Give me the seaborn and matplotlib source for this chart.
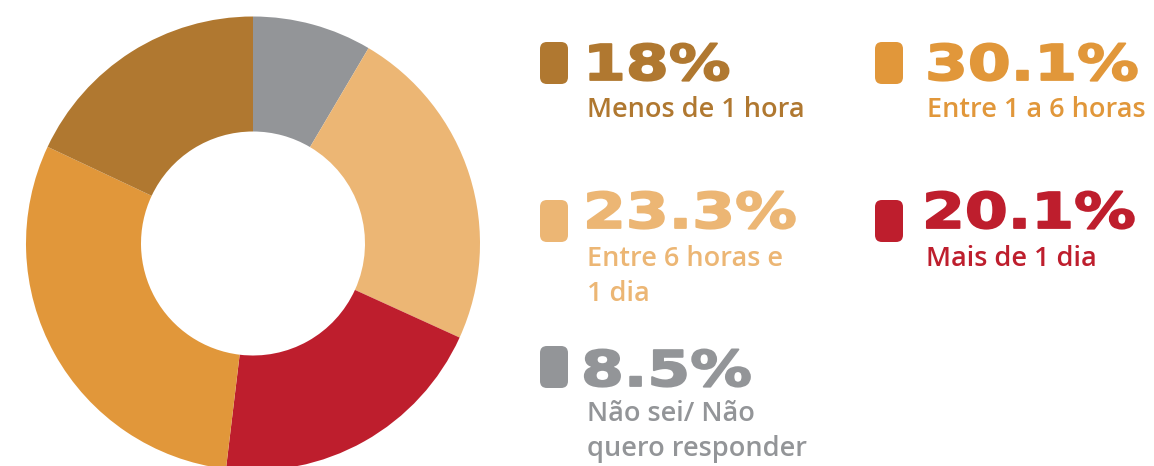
import matplotlib
matplotlib.use("Agg")
import matplotlib.pyplot as plt
import seaborn as sns
from matplotlib.patches import FancyBboxPatch
from matplotlib.patheffects import AbstractPathEffect
from matplotlib.transforms import Affine2D

# Time taken, share of respondents (%)
categories = ["Menos de 1 hora", "Entre 1 a 6 horas", "Entre 6 horas e\n1 dia",
              "Mais de 1 dia", "Não sei/ Não\nquero responder"]
values = [18.0, 30.1, 23.3, 20.1, 8.5]
value_labels = ["18%", "30.1%", "23.3%", "20.1%", "8.5%"]
colors = ["#B07830", "#E1973A", "#ECB674", "#BE1E2D", "#939598"]
# order of the slices going clockwise from 12 o'clock
ring_order = [4, 2, 3, 1, 0]

sns.set_theme(style="white")
plt.rcParams["font.family"] = ["DejaVu Sans"]

W, H = 1154, 466
fig = plt.figure(figsize=(W / 100, H / 100), dpi=100)
fig.patch.set_facecolor("white")


def fx(px):
    return px / W


def fy(py):
    return 1 - py / H


class WideHeavy(AbstractPathEffect):
    """Widen glyphs horizontally about a fixed display x and thicken strokes."""

    def __init__(self, sx, x0, lw):
        super().__init__()
        self.sx = sx
        self.x0 = x0
        self.lw = lw

    def draw_path(self, renderer, gc, tpath, affine, rgbFace=None):
        t = affine + Affine2D().translate(-self.x0, 0).scale(self.sx, 1).translate(self.x0, 0)
        gc0 = renderer.new_gc()
        gc0.copy_properties(gc)
        gc0.set_linewidth(self.lw)
        gc0.set_foreground(rgbFace)
        gc0.set_joinstyle("round")
        renderer.draw_path(gc0, tpath, t, rgbFace)
        gc0.restore()


# Donut
cx, cy, R = 253, 243.5, 227
ax = fig.add_axes([fx(cx - R), fy(cy + R), 2 * R / W, 2 * R / H])
ax.pie([values[i] for i in ring_order],
       colors=[colors[i] for i in ring_order],
       startangle=90, counterclock=False, radius=1,
       wedgeprops=dict(width=1 - 112 / 227, linewidth=0))
ax.set_xlim(-1, 1)
ax.set_ylim(-1, 1)
ax.set_aspect("equal")
ax.axis("off")

# Legend blocks: (marker left, marker top, value x, value baseline, label x, first-line top)
blocks = [
    (540, 42, 583, 80, 587, 96),
    (875, 42, 925, 80, 927, 96),
    (540, 200, 583, 228, 587, 245),
    (875, 200, 922, 228, 926, 245),
    (540, 346, 581, 386, 587, 400),
]
for i, (mx, my, vx, vy, lx, ly) in enumerate(blocks):
    c = colors[i]
    fig.patches.append(FancyBboxPatch(
        (fx(mx), fy(my + 42)), 28 / W, 42 / H,
        boxstyle="round,pad=0,rounding_size=0.006",
        transform=fig.transFigure, facecolor=c, edgecolor="none",
        mutation_aspect=W / H))
    fig.text(fx(vx), fy(vy), value_labels[i], color=c, fontsize=35.5,
             fontweight="bold", ha="left", va="baseline",
             path_effects=[WideHeavy(1.25, vx, 1.3)])
    fig.text(fx(lx), fy(ly), categories[i], color=c, fontsize=19.5,
             family=["Open Sans", "DejaVu Sans"], fontweight="semibold",
             ha="left", va="top", linespacing=1.33)

fig.savefig("out.png", dpi=100, facecolor="white")
